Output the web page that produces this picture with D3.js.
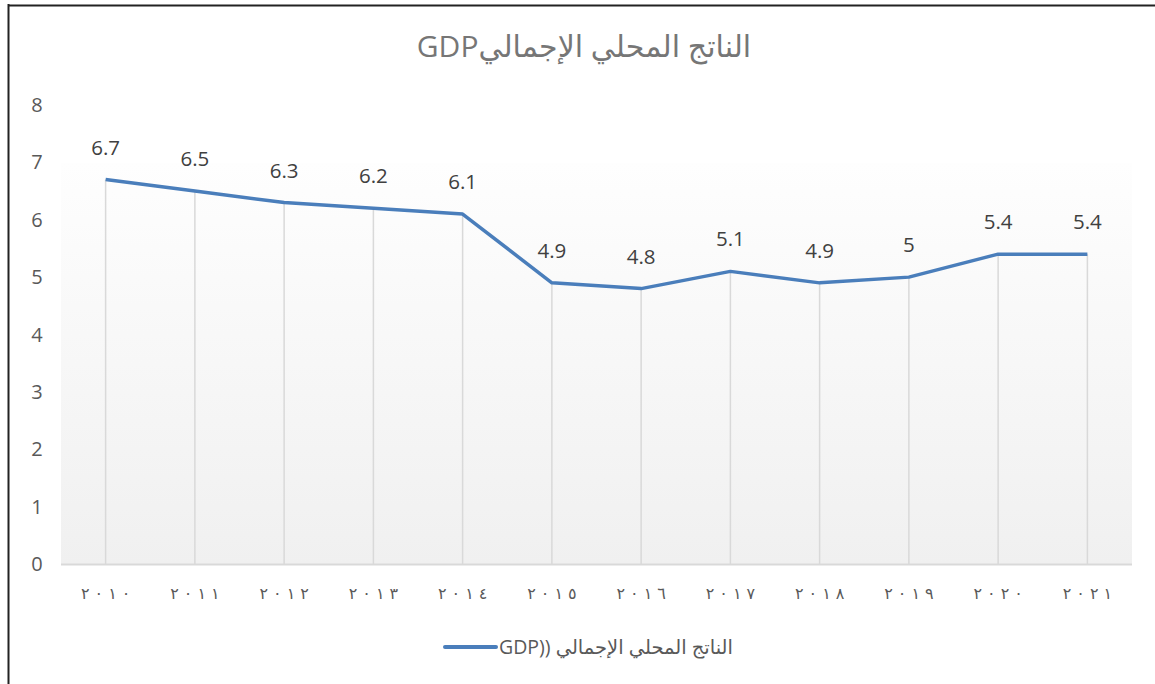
<!DOCTYPE html>
<html>
<head>
<meta charset="utf-8">
<title>GDP</title>
<script src="https://d3js.org/d3.v7.min.js" charset="utf-8"></script>
<style>
  body { margin: 0; background: #fff; }
  text { font-family: "Open Sans", "DejaVu Sans", sans-serif; }
</style>
</head>
<body>
<div class="box"></div>
<script type="text/javascript">
    var years = ["٢٠١٠", "٢٠١١", "٢٠١٢", "٢٠١٣", "٢٠١٤", "٢٠١٥", "٢٠١٦", "٢٠١٧", "٢٠١٨", "٢٠١٩", "٢٠٢٠", "٢٠٢١"];
    var gdp = [6.7, 6.5, 6.3, 6.2, 6.1, 4.9, 4.8, 5.1, 4.9, 5, 5.4, 5.4];
    var yTicks = [0, 1, 2, 3, 4, 5, 6, 7, 8];
    var title = "الناتج المحلي الإجماليGDP";
    var legendLabel = "الناتج المحلي الإجمالي ((GDP";

    var width = 1155;
    var height = 684;
    var plotLeft = 61, plotRight = 1132, plotTopY = 105, plotBottom = 564;
    var lineColor = "#4a7ebb";

    var svg = d3.select("div.box").append("svg")
        .attr("width", width)
        .attr("height", height);

    // chart frame (only top and left edges are visible)
    svg.append("line").attr("x1", 8.5).attr("x2", 8.5).attr("y1", 4).attr("y2", height)
        .attr("stroke", "#222").attr("stroke-width", 2);
    svg.append("line").attr("x1", 8).attr("x2", width).attr("y1", 5.5).attr("y2", 5.5)
        .attr("stroke", "#222").attr("stroke-width", 2);

    var x = d3.scaleBand().domain(years).range([plotLeft, plotRight]);
    var y = d3.scaleLinear().domain([0, 8]).range([plotBottom, plotTopY]);
    var cx = function(i) { return x(years[i]) + x.bandwidth() / 2; };

    var grad = svg.append("defs").append("linearGradient")
        .attr("id", "bg").attr("x1", 0).attr("x2", 0).attr("y1", 0).attr("y2", 1);
    grad.append("stop").attr("offset", "0%").attr("stop-color", "#fefefe");
    grad.append("stop").attr("offset", "100%").attr("stop-color", "#f0f0f0");

    var shadeTop = 163;
    svg.append("rect")
        .attr("x", plotLeft).attr("y", shadeTop)
        .attr("width", plotRight - plotLeft).attr("height", plotBottom - shadeTop)
        .attr("fill", "url(#bg)");

    // title
    svg.append("text")
        .attr("x", 584).attr("y", 57)
        .attr("text-anchor", "middle")
        .attr("direction", "rtl")
        .attr("font-size", 30)
        .attr("fill", "#767676")
        .text(title);

    // y axis labels
    svg.selectAll("text.ytick").data(yTicks).enter().append("text")
        .attr("class", "ytick")
        .attr("x", 37).attr("y", function(d) { return y(d) + 7; })
        .attr("text-anchor", "middle")
        .attr("font-size", 20)
        .attr("fill", "#595959")
        .text(function(d) { return d; });

    // drop lines
    svg.selectAll("line.drop").data(gdp).enter().append("line")
        .attr("class", "drop")
        .attr("x1", function(d, i) { return cx(i); })
        .attr("x2", function(d, i) { return cx(i); })
        .attr("y1", function(d) { return y(d); })
        .attr("y2", plotBottom)
        .attr("stroke", "#d9d9d9").attr("stroke-width", 1.5);

    // category axis line
    svg.append("line")
        .attr("x1", plotLeft).attr("x2", plotRight).attr("y1", plotBottom + 0.5).attr("y2", plotBottom + 0.5)
        .attr("stroke", "#d9d9d9").attr("stroke-width", 2);

    // x labels, digits spread out like the reference
    var xl = svg.selectAll("text.xtick").data(years).enter().append("text")
        .attr("class", "xtick")
        .attr("x", function(d) { return x(d) + x.bandwidth() / 2; })
        .attr("y", 599)
        .attr("text-anchor", "middle")
        .attr("font-family", "DejaVu Sans")
        .attr("font-size", 16)
        .attr("fill", "#595959");
    xl.selectAll("tspan").data(function(d) { return d.split(""); }).enter().append("tspan")
        .attr("dx", function(c, j) { return j === 0 ? 0 : 5; })
        .text(function(c) { return c; });

    // line
    var line = d3.line()
        .x(function(d, i) { return cx(i); })
        .y(function(d) { return y(d); });
    svg.append("path").datum(gdp)
        .attr("d", line)
        .attr("fill", "none")
        .attr("stroke", lineColor)
        .attr("stroke-width", 3.5)
        .attr("stroke-linejoin", "round");

    // data labels
    svg.selectAll("text.lbl").data(gdp).enter().append("text")
        .attr("class", "lbl")
        .attr("x", function(d, i) { return cx(i); })
        .attr("y", function(d) { return y(d) - 25; })
        .attr("text-anchor", "middle")
        .attr("font-size", 20.5)
        .attr("fill", "#404040")
        .text(function(d) { return d; });

    // legend
    svg.append("line")
        .attr("x1", 445).attr("x2", 496).attr("y1", 647).attr("y2", 647)
        .attr("stroke", lineColor).attr("stroke-width", 4).attr("stroke-linecap", "round");
    svg.append("text")
        .attr("x", 499).attr("y", 654)
        .attr("text-anchor", "end")
        .attr("direction", "rtl")
        .attr("font-size", 19.5)
        .attr("fill", "#595959")
        .text(legendLabel);
</script>
</body>
</html>
